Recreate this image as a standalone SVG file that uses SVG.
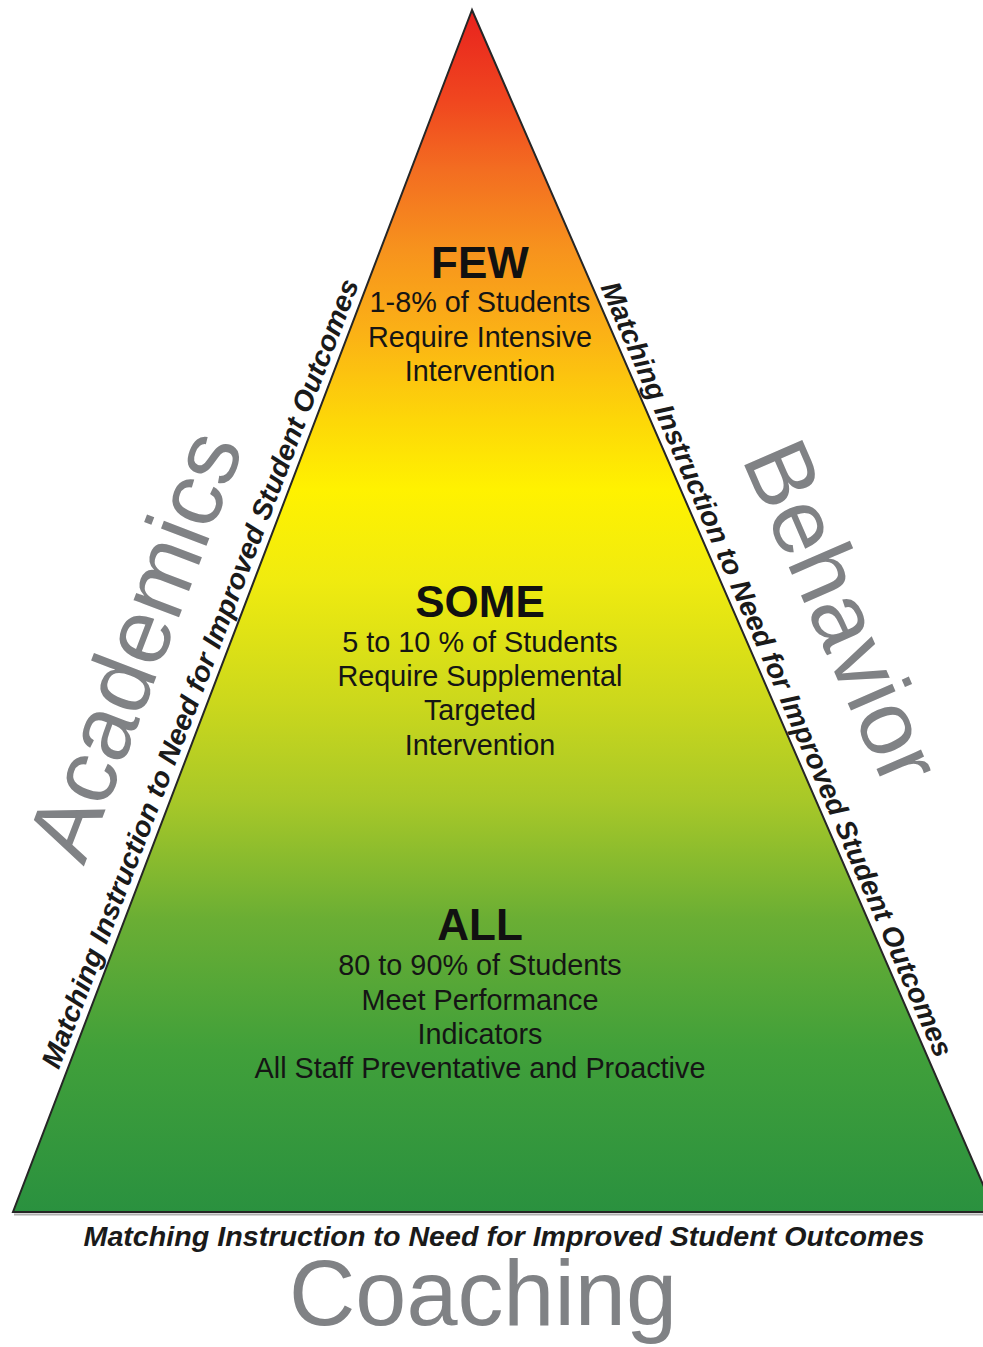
<svg xmlns="http://www.w3.org/2000/svg" width="983" height="1347" viewBox="0 0 983 1347">
<defs>
<linearGradient id="tier" gradientUnits="userSpaceOnUse" x1="0" y1="10" x2="0" y2="1212">
<stop offset="0" stop-color="#e8221e"/>
<stop offset="0.075" stop-color="#f0461f"/>
<stop offset="0.133" stop-color="#f36d21"/>
<stop offset="0.2" stop-color="#f7931d"/>
<stop offset="0.266" stop-color="#fbb016"/>
<stop offset="0.341" stop-color="#fdd708"/>
<stop offset="0.399" stop-color="#fff200"/>
<stop offset="0.474" stop-color="#f0eb0f"/>
<stop offset="0.574" stop-color="#ccd81c"/>
<stop offset="0.657" stop-color="#a8c828"/>
<stop offset="0.757" stop-color="#6aae34"/>
<stop offset="0.865" stop-color="#41a03a"/>
<stop offset="1" stop-color="#2a913f"/>
</linearGradient>
<style>
.head{font-family:"Liberation Sans",Arial,sans-serif;font-weight:bold;font-size:44px;fill:#111;text-anchor:middle}
.body{font-family:"Liberation Sans",Arial,sans-serif;font-size:28.8px;fill:#151515;text-anchor:middle}
.side{font-family:"Liberation Sans",Arial,sans-serif;font-weight:bold;font-style:italic;font-size:28px;fill:#1a1a1a;text-anchor:middle}
.big{font-family:"Liberation Sans",Arial,sans-serif;font-size:92px;fill:#808285;text-anchor:middle}
</style>
</defs>
<rect width="983" height="1347" fill="#ffffff"/>
<g id="pyramid">
<line x1="14" y1="1214.5" x2="983" y2="1214.5" stroke="#b0b0b0" stroke-width="2"/>
<polygon points="472,10 13,1212 995,1212" fill="url(#tier)" stroke="#262626" stroke-width="2" stroke-linejoin="miter"/>
</g>
<g id="few">
<text class="head" x="480" y="278">FEW</text>
<text class="body" x="480" y="312">1-8% of Students</text>
<text class="body" x="480" y="347">Require Intensive</text>
<text class="body" x="480" y="381">Intervention</text>
</g>
<g id="some">
<text class="head" x="480" y="617">SOME</text>
<text class="body" x="480" y="652">5 to 10 % of Students</text>
<text class="body" x="480" y="686">Require Supplemental</text>
<text class="body" x="480" y="720">Targeted</text>
<text class="body" x="480" y="755">Intervention</text>
</g>
<g id="all">
<text class="head" x="480" y="940">ALL</text>
<text class="body" x="480" y="975">80 to 90% of Students</text>
<text class="body" x="480" y="1010">Meet Performance</text>
<text class="body" x="480" y="1044">Indicators</text>
<text class="body" x="480" y="1078">All Staff Preventative and Proactive</text>
</g>
<g id="academics">
<text class="side" transform="translate(209,677) rotate(-69.1)" textLength="842" lengthAdjust="spacingAndGlyphs">Matching Instruction to Need for Improved Student Outcomes</text>
<text class="big" transform="translate(164,656.7) rotate(-69.1)">Academics</text>
</g>
<g id="behavior">
<text class="side" transform="translate(768,673) rotate(66.5)" textLength="842" lengthAdjust="spacingAndGlyphs">Matching Instruction to Need for Improved Student Outcomes</text>
<text class="big" transform="translate(813.7,624.8) rotate(66.5)">Behavior</text>
</g>
<g id="coaching">
<text class="side" x="504" y="1246" textLength="841" lengthAdjust="spacingAndGlyphs">Matching Instruction to Need for Improved Student Outcomes</text>
<text class="big" x="483" y="1325" textLength="388" lengthAdjust="spacingAndGlyphs">Coaching</text>
</g>
<g id="connectors"/>
</svg>
